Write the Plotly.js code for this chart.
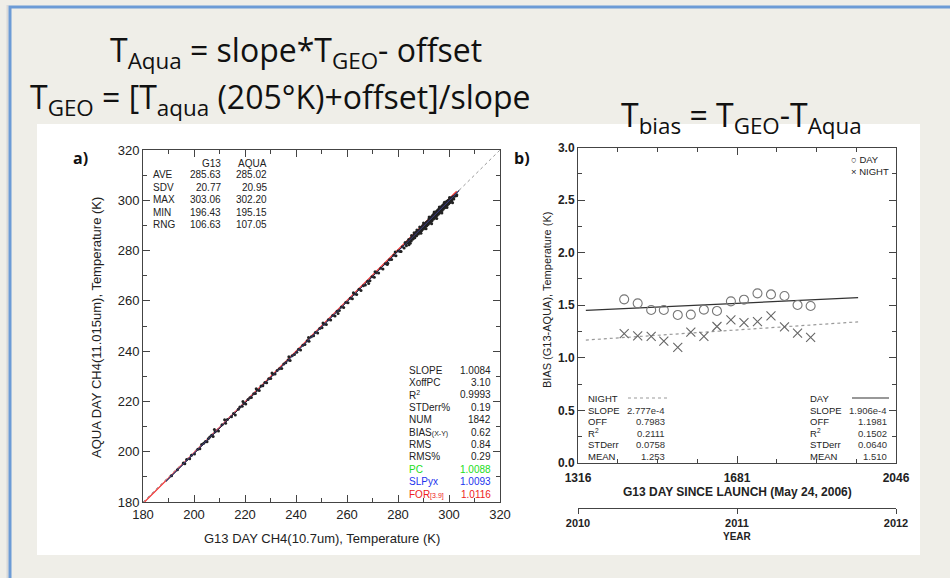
<!DOCTYPE html>
<html>
<head>
<meta charset="utf-8">
<script src="https://cdn.plot.ly/plotly-3.0.1.min.js"></script>
<style>html,body{margin:0;padding:0;background:#efeee8;}#chart{width:950px;height:578px;}</style>
</head>
<body>
<div id="chart"></div>
<script>
// ---------- Panel a data: G13 (x) vs AQUA (y) brightness temperatures ----------
const g13Temp = [
191.2,193.5,195.8,196.4,197.1,198.3,199.0,200.2,201.5,202.3,203.0,203.8,204.5,205.1,205.6,206.2,206.9,207.5,208.3,209.6,
211.0,212.4,213.1,214.7,215.5,216.2,217.4,218.0,218.9,219.6,220.3,221.2,221.9,222.5,223.4,224.1,224.8,225.6,226.3,227.0,
227.8,228.5,229.3,230.1,231.0,231.8,232.6,233.5,234.4,235.2,236.0,236.9,237.7,238.5,239.4,240.3,
241.0,241.8,242.7,243.5,244.4,245.1,246.0,246.9,247.6,248.5,249.3,250.2,251.0,251.9,252.7,253.6,254.4,255.3,256.1,257.0,
257.8,258.7,259.5,260.4,261.3,262.1,263.0,263.8,264.7,265.5,266.4,267.2,268.1,269.0,269.8,270.7,271.5,272.4,273.3,274.1,
275.0,275.8,276.7,277.5,278.4,279.2,280.1,280.9,281.7,282.4,
283.0,283.3,283.7,284.0,284.2,284.5,284.8,285.0,285.2,285.5,285.7,286.0,286.1,286.4,286.6,286.9,287.1,287.3,287.6,287.8,
288.0,288.2,288.4,288.7,288.9,289.1,289.3,289.5,289.7,289.9,290.1,290.3,290.5,290.7,290.9,291.1,291.3,291.5,291.6,291.8,
292.0,292.1,292.3,292.5,292.6,292.8,293.0,293.1,293.3,293.5,293.6,293.8,294.0,294.1,294.3,294.5,294.6,294.8,295.0,295.1,
295.3,295.5,295.6,295.8,296.0,296.1,296.3,296.5,296.6,296.8,297.0,297.1,297.3,297.5,297.6,297.8,298.0,298.1,298.3,298.5,
298.6,298.8,299.0,299.1,299.3,299.5,299.7,299.9,300.1,300.3,300.5,300.7,300.9,301.1,301.3,301.6,301.9,302.2,302.6,303.0,
303.06,288.5,289.0,290.0,291.0,292.2,293.2,294.2,295.2,296.2,297.2,298.2,299.2,300.2,301.4,286.3,285.3,284.3,287.4,282.8,
281.2,278.9,276.0,271.0,268.5,262.5,256.5,250.6,244.9,237.2,230.6,224.4,219.2,212.0,208.0
];
const aquaTemp = [
190.4,192.8,195.5,195.2,196.9,197.2,198.6,199.1,201.0,201.2,202.9,203.4,204.1,204.0,205.2,205.9,206.5,206.1,207.9,208.2,
210.7,211.3,212.8,213.9,215.2,214.6,216.9,217.8,218.1,219.3,219.0,220.8,221.5,221.6,223.1,223.2,224.5,224.3,226.1,226.2,
227.5,227.4,229.0,229.1,230.8,230.9,232.3,233.0,233.1,234.9,235.4,236.5,236.3,238.2,238.7,239.6,
240.8,240.5,242.3,242.6,244.1,243.9,245.7,246.1,247.4,247.2,249.0,249.3,250.7,250.6,252.5,252.4,254.2,254.0,255.9,256.2,
257.6,257.4,259.3,259.2,261.0,260.8,262.7,262.5,264.6,264.1,266.0,266.3,267.8,268.0,269.6,269.4,271.2,271.1,273.0,272.7,
274.8,274.5,276.3,276.4,278.1,277.9,279.8,279.6,281.5,281.0,
282.6,281.9,283.5,283.0,284.4,283.6,282.9,284.7,283.8,285.3,284.5,285.8,284.9,286.2,285.1,286.0,287.3,285.9,286.8,287.6,
286.6,288.1,287.2,288.5,287.5,289.3,288.0,288.8,290.0,288.6,289.7,288.9,290.6,289.4,290.2,291.3,289.9,290.8,291.7,290.4,
291.4,292.6,290.9,292.0,293.0,291.5,292.3,293.5,291.8,293.0,294.0,292.5,293.3,294.7,292.9,294.0,295.0,293.4,294.5,295.6,
293.9,294.9,296.1,294.4,295.3,296.6,294.9,296.0,297.0,295.4,296.4,297.6,295.9,296.9,298.1,296.5,297.4,298.6,297.0,298.0,
299.1,297.5,298.3,299.6,298.0,299.1,300.0,298.6,299.4,300.5,299.1,300.2,301.0,299.7,300.6,301.4,300.5,301.6,302.0,301.8,
302.2,289.4,286.9,291.0,288.7,293.4,290.7,295.3,292.8,297.3,294.9,299.2,297.1,301.1,299.0,287.1,286.0,282.3,288.2,283.2,
279.6,279.4,275.0,271.6,266.9,263.2,255.0,251.2,245.4,237.8,231.3,225.0,220.0,212.7,208.8
];
// reference / fit lines (end points)
const diagX = [180, 320], diagY = [180, 320];
const forLineX = [180.6, 303], forLineY = [180.0, 303.6];
const slpLineX = [189, 304], slpLineY = [188.3, 303.8];
const fitLineX = [189, 304], fitLineY = [188.1, 304.0];

const statRowLabels = ['AVE', 'SDV', 'MAX', 'MIN', 'RNG'];
const statG13 = ['285.63', '20.77', '303.06', '196.43', '106.63'];
const statAqua = ['285.02', '20.95', '302.20', '195.15', '107.05'];
const fitLabels = ['SLOPE', 'XoffPC', 'R<sup>2</sup>', 'STDerr%', 'NUM', 'BIAS<span style="font-size:7px">(X-Y)</span>', 'RMS', 'RMS%', 'PC', 'SLPyx', 'FOR<span style="font-size:7px">[3.9]</span>'];
const fitValues = ['1.0084', '3.10', '0.9993', '0.19', '1842', '0.62', '0.84', '0.29', '1.0088', '1.0093', '1.0116'];
const fitColors = ['#222', '#222', '#222', '#222', '#222', '#222', '#222', '#222', '#22dd22', '#2233ee', '#ee2222'];

// ---------- Panel b data: monthly bias vs day since launch ----------
const biasDays = [1422, 1453, 1484, 1513, 1545, 1575, 1605, 1635, 1667, 1697, 1728, 1759, 1790, 1820, 1850];
const dayBias = [1.556, 1.518, 1.455, 1.455, 1.408, 1.411, 1.458, 1.446, 1.537, 1.553, 1.613, 1.603, 1.588, 1.503, 1.493];
const nightBias = [1.231, 1.209, 1.203, 1.159, 1.099, 1.244, 1.203, 1.298, 1.361, 1.335, 1.345, 1.399, 1.294, 1.235, 1.194];
const dayFitX = [1334, 1959], dayFitY = [1.452, 1.572];
const nightFitX = [1334, 1959], nightFitY = [1.169, 1.342];
const yearRange = [2010, 2012];
const statLabelsB = ['SLOPE', 'OFF', 'R<sup>2</sup>', 'STDerr', 'MEAN'];
const nightStats = ['2.777e-4', '0.7983', '0.2111', '0.0758', '1.253'];
const dayStats = ['1.906e-4', '1.1981', '0.1502', '0.0640', '1.510'];

// ---------- helpers (pixel -> paper) ----------
const W = 950, H = 578;
const px = x => x / W;
const py = y => 1 - y / H;
const SANS = 'Liberation Sans, Arial, sans-serif';
const SLIDE = 'Open Sans, sans-serif';

const traces = [
  {x: diagX, y: diagY, xaxis: 'x', yaxis: 'y', mode: 'lines', line: {color: '#999', width: 1, dash: 'dot'}, hoverinfo: 'skip'},
  {x: forLineX, y: forLineY, xaxis: 'x', yaxis: 'y', mode: 'lines', line: {color: '#ee3333', width: 1.2}, hoverinfo: 'skip'},
  {x: g13Temp, y: aquaTemp, xaxis: 'x', yaxis: 'y', mode: 'markers', marker: {color: '#222', size: 3}},
  {x: slpLineX, y: slpLineY, xaxis: 'x', yaxis: 'y', mode: 'lines', line: {color: '#4455bb', width: 1}, hoverinfo: 'skip'},
  {x: fitLineX, y: fitLineY, xaxis: 'x', yaxis: 'y', mode: 'lines', line: {color: '#2a2233', width: 1}, hoverinfo: 'skip'},
  {x: dayFitX, y: dayFitY, xaxis: 'x2', yaxis: 'y2', mode: 'lines', line: {color: '#333', width: 1.2}, hoverinfo: 'skip'},
  {x: nightFitX, y: nightFitY, xaxis: 'x2', yaxis: 'y2', mode: 'lines', line: {color: '#999', width: 1.2, dash: 'dot'}, hoverinfo: 'skip'},
  {x: biasDays, y: dayBias, xaxis: 'x2', yaxis: 'y2', mode: 'markers', name: 'DAY',
   marker: {symbol: 'circle-open', size: 9, color: '#777', line: {width: 1.1}}},
  {x: biasDays, y: nightBias, xaxis: 'x2', yaxis: 'y2', mode: 'markers', name: 'NIGHT',
   marker: {symbol: 'x-thin-open', size: 9, color: '#666', line: {width: 1.1}}},
  {x: yearRange, y: [null, null], xaxis: 'x3', yaxis: 'y2', mode: 'markers', hoverinfo: 'skip'}
];

const axBase = {showgrid: false, zeroline: false, showline: true, linecolor: '#444', linewidth: 1,
  ticks: 'inside', mirror: 'ticks', tickcolor: '#444', fixedrange: true};

const layout = {
  width: W, height: H, autosize: false, showlegend: false,
  margin: {l: 0, r: 0, t: 0, b: 0},
  paper_bgcolor: '#efeee8', plot_bgcolor: 'rgba(0,0,0,0)',
  xaxis: Object.assign({}, axBase, {domain: [px(143), px(500)], range: [180, 320], anchor: 'y',
    tick0: 180, dtick: 20, ticklen: 7, tickfont: {family: SANS, size: 13, color: '#222'},
    minor: {dtick: 10, tick0: 180, ticks: 'inside', ticklen: 4, tickcolor: '#444', showgrid: false}}),
  yaxis: Object.assign({}, axBase, {domain: [py(502), py(150)], range: [180, 320], anchor: 'x',
    tick0: 180, dtick: 20, ticklen: 7, tickfont: {family: SANS, size: 13, color: '#222'},
    minor: {dtick: 10, tick0: 180, ticks: 'inside', ticklen: 4, tickcolor: '#444', showgrid: false}}),
  xaxis2: Object.assign({}, axBase, {domain: [px(578), px(896)], range: [1316, 2046], anchor: 'y2',
    tick0: 1316, dtick: 365, ticklen: 7, ticklabelstandoff: 4,
    tickfont: {family: SANS, size: 12, color: '#222', weight: 'bold'},
    minor: {dtick: 91.25, tick0: 1316, ticks: 'inside', ticklen: 4, tickcolor: '#444', showgrid: false}}),
  yaxis2: Object.assign({}, axBase, {domain: [py(463), py(147.5)], range: [0, 3], anchor: 'x2',
    tick0: 0, dtick: 0.5, tickformat: '.1f', ticklen: 7, tickfont: {family: SANS, size: 12, color: '#222', weight: 'bold'},
    minor: {dtick: 0.25, tick0: 0, ticks: 'inside', ticklen: 4, tickcolor: '#444', showgrid: false}}),
  xaxis3: {domain: [px(578), px(896)], range: [2010, 2012], overlaying: 'x2', anchor: 'free', position: py(508),
    side: 'bottom', showgrid: false, zeroline: false, showline: true, linecolor: '#444', linewidth: 1,
    tick0: 2010, dtick: 1, ticks: 'outside', ticklen: 5, tickcolor: '#444', tickformat: 'd',
    tickfont: {family: SANS, size: 11, color: '#222', weight: 'bold'}, fixedrange: true},
  shapes: [
    {type: 'rect', xref: 'paper', yref: 'paper', x0: px(37), x1: px(920), y0: py(555), y1: py(124),
     fillcolor: '#ffffff', line: {width: 0}, layer: 'below'},
    {type: 'line', xref: 'paper', yref: 'paper', x0: px(7.5), x1: px(7.5), y0: 0, y1: py(5), line: {color: '#d8d8d8', width: 2}, layer: 'below'},
    {type: 'path', xref: 'paper', yref: 'paper',
     path: 'M ' + px(10) + ',0 L ' + px(10) + ',' + py(7) + ' L 1,' + py(7),
     line: {color: '#6c9bd6', width: 3}, layer: 'below'},
    {type: 'line', xref: 'paper', yref: 'paper', x0: px(628), x1: px(667), y0: py(398), y1: py(398), line: {color: '#999', width: 1, dash: 'dot'}},
    {type: 'line', xref: 'paper', yref: 'paper', x0: px(852), x1: px(889), y0: py(398), y1: py(398), line: {color: '#333', width: 1.2}}
  ],
  annotations: []
};

function note(text, x, y, opts) {
  layout.annotations.push(Object.assign({text: text, x: px(x), y: py(y), xref: 'paper', yref: 'paper',
    showarrow: false, xanchor: 'center', yanchor: 'middle',
    font: {family: SANS, size: 10, color: '#222'}}, opts || {}));
}

// slide equations
note('T<sub>Aqua</sub> = slope*T<sub>GEO</sub>- offset', 296, 52, {font: {family: SLIDE, size: 32, color: '#111'}});
note('T<sub>GEO</sub> = [T<sub>aqua</sub> (205°K)+offset]/slope', 280, 99, {font: {family: SLIDE, size: 32, color: '#111'}});
note('T<sub>bias</sub> = T<sub>GEO</sub>-T<sub>Aqua</sub>', 741, 117, {font: {family: SLIDE, size: 32, color: '#111'}});

// panel labels
note('a)', 80, 158, {font: {family: 'Open Sans, sans-serif', size: 16, color: '#111', weight: 'bold'}});
note('b)', 522, 158, {font: {family: 'Open Sans, sans-serif', size: 16, color: '#111', weight: 'bold'}});

// axis titles
note('AQUA DAY CH4(11.015um), Temperature (K)', 96, 328, {textangle: -90, font: {family: SANS, size: 13, color: '#222'}});
note('G13 DAY CH4(10.7um), Temperature (K)', 322, 538, {font: {family: SANS, size: 13, color: '#222'}});
note('BIAS (G13-AQUA), Temperature (K)', 547, 300, {textangle: -90, font: {family: SANS, size: 11, color: '#222'}});
note('G13 DAY SINCE LAUNCH (May 24, 2006)', 737, 492, {font: {family: SANS, size: 12, color: '#222', weight: 'bold'}});
note('YEAR', 737, 536, {font: {family: SANS, size: 10, color: '#222', weight: 'bold'}});

// panel a summary statistics
note('G13', 223, 163, {xanchor: 'right'});
note('AQUA', 269, 163, {xanchor: 'right'});
statRowLabels.forEach((lab, i) => {
  const y = 174.5 + i * 12.6;
  note(lab, 151, y, {xanchor: 'left'});
  note(statG13[i], 223, y, {xanchor: 'right'});
  note(statAqua[i], 269, y, {xanchor: 'right'});
});
fitLabels.forEach((lab, i) => {
  const y = 370 + i * 12.4;
  note(lab, 407, y, {xanchor: 'left', font: {family: SANS, size: 10, color: fitColors[i]}});
  note(fitValues[i], 493, y, {xanchor: 'right', font: {family: SANS, size: 10, color: fitColors[i]}});
});

// panel b legend and fit statistics
note('○ DAY', 849, 159, {xanchor: 'left', font: {family: SANS, size: 9.5, color: '#222'}});
note('× NIGHT', 849, 171, {xanchor: 'left', font: {family: SANS, size: 9.5, color: '#222'}});
note('NIGHT', 586, 398.5, {xanchor: 'left', font: {family: SANS, size: 9.5, color: '#222'}});
note('DAY', 808, 398.5, {xanchor: 'left', font: {family: SANS, size: 9.5, color: '#222'}});
statLabelsB.forEach((lab, i) => {
  const y = 410.5 + i * 11.4;
  note(lab, 586, y, {xanchor: 'left', font: {family: SANS, size: 9.5, color: '#222'}});
  note(nightStats[i], 667, y, {xanchor: 'right', font: {family: SANS, size: 9.5, color: '#333'}});
  note(lab, 808, y, {xanchor: 'left', font: {family: SANS, size: 9.5, color: '#222'}});
  note(dayStats[i], 889, y, {xanchor: 'right', font: {family: SANS, size: 9.5, color: '#333'}});
});

Plotly.newPlot('chart', traces, layout, {displayModeBar: false, staticPlot: true});
</script>
</body>
</html>
